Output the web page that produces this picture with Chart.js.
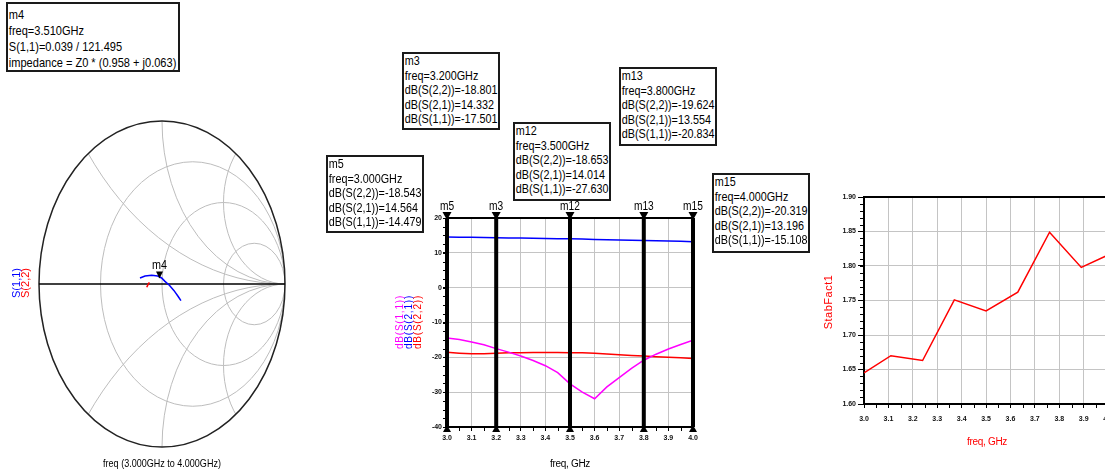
<!DOCTYPE html>
<html>
<head>
<meta charset="utf-8">
<script src="https://cdn.jsdelivr.net/npm/chart.js@4.4.1/dist/chart.umd.min.js"></script>
<style>
  body { margin:0; width:1105px; height:472px; overflow:hidden; background:#fff; position:relative;
         font-family:"Liberation Sans", Arial, sans-serif; color:#000; }
  canvas { position:absolute; }
  .box { position:absolute; box-sizing:border-box; border:2px solid #1a1a1a; background:#fff; overflow:hidden; }
  .box div { transform:scaleX(0.83); transform-origin:0 0; white-space:pre; font-size:13px; line-height:14.5px; padding-left:1px; }
  .lbl { position:absolute; white-space:pre; }
</style>
</head>
<body>
<canvas id="smith" width="300" height="472" style="left:0;top:0"></canvas>
<canvas id="db" width="330" height="277" style="left:380px;top:195px"></canvas>
<canvas id="stab" width="300" height="292" style="left:820px;top:180px"></canvas>

<div class="lbl" style="left:162px;top:463px;font-size:11px;transform:translate(-50%,-50%) scaleX(0.82)">freq (3.000GHz to 4.000GHz)</div>
<div class="lbl" style="left:16px;top:283px;font-size:11px;color:#0000ff;transform:translate(-50%,-50%) rotate(-90deg)">S(1,1)</div>
<div class="lbl" style="left:25px;top:283px;font-size:11px;color:#ff0000;transform:translate(-50%,-50%) rotate(-90deg)">S(2,2)</div>

<div class="lbl" style="left:570px;top:463px;font-size:10px;letter-spacing:-0.3px;transform:translate(-50%,-50%)">freq, GHz</div>
<div class="lbl" style="left:399px;top:322px;font-size:10px;letter-spacing:0.8px;color:#ff00ff;transform:translate(-50%,-50%) rotate(-90deg)">dB(S(1,1))</div>
<div class="lbl" style="left:408px;top:322px;font-size:10px;letter-spacing:0.8px;color:#0000ff;transform:translate(-50%,-50%) rotate(-90deg)">dB(S(2,1))</div>
<div class="lbl" style="left:417px;top:322px;font-size:10px;letter-spacing:0.8px;color:#ff0000;transform:translate(-50%,-50%) rotate(-90deg)">dB(S(2,2))</div>

<div class="lbl" style="left:987px;top:441px;font-size:10px;letter-spacing:-0.3px;color:#ff0000;transform:translate(-50%,-50%)">freq, GHz</div>
<div class="lbl" style="left:828px;top:302px;font-size:11px;letter-spacing:0.5px;color:#ff0000;transform:translate(-50%,-50%) rotate(-90deg)">StabFact1</div>

<script>
// Smith chart traces (real / imaginary part of reflection), 3.0 -> 4.0 GHz
const s11Re = [-0.179, -0.138, -0.084, -0.035, -0.003, 0.024, 0.060, 0.098, 0.133, 0.154];
const s11Im = [0.037, 0.049, 0.053, 0.049, 0.037, 0.016, -0.008, -0.041, -0.078, -0.102];
const s22Re = [-0.124, -0.114, -0.103];
const s22Im = [-0.020, -0.004, 0.010];
const resistanceCircles = [1 / 3, 1, 3];
const reactanceArcs = [0.5, 1, 2];
// marker m4 on S(1,1)
const m4Freq = 3.51;
const m4Polar = [0.039, 121.495];   // magnitude, angle (deg)
const m4Z = [0.958, 0.063];         // normalised impedance re, im

// dB plot
const freqGHz = [3.00, 3.05, 3.10, 3.15, 3.20, 3.25, 3.30, 3.35, 3.40, 3.45, 3.50,
                 3.55, 3.60, 3.65, 3.70, 3.75, 3.80, 3.85, 3.90, 3.95, 4.00];
const s11dB = [-14.479, -14.9, -15.6, -16.4, -17.501, -18.5, -19.6, -20.9, -22.4, -24.4, -27.630,
               -30.0, -31.9, -28.5, -25.8, -23.2, -20.834, -19.1, -17.6, -16.3, -15.108];
const s21dB = [14.564, 14.50, 14.44, 14.39, 14.332, 14.28, 14.23, 14.18, 14.12, 14.07, 14.014,
               13.94, 13.86, 13.78, 13.71, 13.63, 13.554, 13.47, 13.38, 13.29, 13.196];
const s22dB = [-18.543, -18.8, -19.0, -18.95, -18.801, -18.7, -18.65, -18.6, -18.6, -18.62, -18.653,
               -18.72, -18.85, -19.05, -19.25, -19.45, -19.624, -19.8, -19.98, -20.15, -20.319];
const markerNames = ['m5', 'm3', 'm12', 'm13', 'm15'];
const markerFreqs = [3.0, 3.2, 3.5, 3.8, 4.0];

// stability factor
const stabFreq = [3.0, 3.11, 3.24, 3.37, 3.5, 3.63, 3.76, 3.89, 4.0];
const stabFact = [1.645, 1.670, 1.663, 1.751, 1.735, 1.762, 1.849, 1.798, 1.816];

Chart.defaults.font.family = '"Liberation Sans", Arial, sans-serif';

// marker read-out boxes
const boxPos = {
  m4: [6, 2, 174, 70], m3: [402, 52, 98, 78], m13: [619, 67, 98, 79],
  m12: [513, 122, 98, 79], m5: [326, 155, 98, 78], m15: [712, 173, 98, 80]
};
function addBox(name, lines, bigger) {
  const p = boxPos[name];
  const d = document.createElement('div');
  d.className = 'box';
  d.style.cssText = `left:${p[0]}px;top:${p[1]}px;width:${p[2]}px;height:${p[3]}px;`;
  if (bigger) d.style.paddingTop = '3px';
  lines.forEach(t => {
    const l = document.createElement('div');
    l.textContent = t;
    if (bigger) { l.style.fontSize = '13.3px'; l.style.lineHeight = '16px'; }
    d.appendChild(l);
  });
  document.body.appendChild(d);
}
addBox('m4', ['m4', `freq=${m4Freq.toFixed(3)}GHz`, `S(1,1)=${m4Polar[0].toFixed(3)} / ${m4Polar[1].toFixed(3)}`,
  `impedance = Z0 * (${m4Z[0].toFixed(3)} + j${m4Z[1].toFixed(3)})`], true);
['m3', 'm13', 'm12', 'm5', 'm15'].forEach(n => {
  const f = markerFreqs[markerNames.indexOf(n)];
  const i = freqGHz.findIndex(v => Math.abs(v - f) < 1e-9);
  addBox(n, [n, `freq=${f.toFixed(3)}GHz`, `dB(S(2,2))=${s22dB[i].toFixed(3)}`,
    `dB(S(2,1))=${s21dB[i].toFixed(3)}`, `dB(S(1,1))=${s11dB[i].toFixed(3)}`]);
});

// Smith chart grid + marker
const smithGrid = {
  id: 'smithGrid',
  beforeDatasetsDraw(chart) {
    const { ctx, scales: { x, y } } = chart;
    const cx = x.getPixelForValue(0), cy = y.getPixelForValue(0);
    const sx = x.getPixelForValue(1) - cx, sy = cy - y.getPixelForValue(1);
    ctx.save();
    ctx.beginPath();
    ctx.ellipse(cx, cy, sx, sy, 0, 0, Math.PI * 2);
    ctx.clip();
    ctx.strokeStyle = '#bdbdbd';
    ctx.lineWidth = 1;
    resistanceCircles.forEach(r => {
      const c = r / (r + 1), rad = 1 / (r + 1);
      ctx.beginPath();
      ctx.ellipse(cx + c * sx, cy, rad * sx, rad * sy, 0, 0, Math.PI * 2);
      ctx.stroke();
    });
    reactanceArcs.forEach(xv => [xv, -xv].forEach(v => {
      const rad = 1 / Math.abs(v);
      ctx.beginPath();
      ctx.ellipse(cx + sx, cy - sy / v, rad * sx, rad * sy, 0, 0, Math.PI * 2);
      ctx.stroke();
    }));
    ctx.restore();
    ctx.save();
    ctx.strokeStyle = '#222';
    ctx.lineWidth = 1.5;
    ctx.beginPath();
    ctx.ellipse(cx, cy, sx, sy, 0, 0, Math.PI * 2);
    ctx.stroke();
    ctx.strokeStyle = '#000';
    ctx.beginPath();
    ctx.moveTo(cx - sx, cy);
    ctx.lineTo(cx + sx, cy);
    ctx.stroke();
    ctx.restore();
  },
  afterDatasetsDraw(chart) {
    const { ctx, scales: { x, y } } = chart;
    const a = m4Polar[1] * Math.PI / 180;
    const px = x.getPixelForValue(m4Polar[0] * Math.cos(a));
    const py = y.getPixelForValue(m4Polar[0] * Math.sin(a));
    ctx.save();
    ctx.fillStyle = '#000';
    ctx.beginPath();
    ctx.moveTo(px - 3.5, py - 7);
    ctx.lineTo(px + 3.5, py - 7);
    ctx.lineTo(px, py);
    ctx.closePath();
    ctx.fill();
    ctx.translate(px, py - 10);
    ctx.scale(0.9, 1);
    ctx.font = '12px "Liberation Sans"';
    ctx.textAlign = 'center';
    ctx.fillText('m4', 0, 0);
    ctx.restore();
  }
};

// plot frame + minor ticks
const axisFrame = {
  id: 'axisFrame',
  beforeDatasetsDraw(chart, args, opts) {
    const { ctx, chartArea: a, scales: { x, y } } = chart;
    ctx.save();
    ctx.strokeStyle = '#000';
    ctx.lineWidth = 1;
    ctx.beginPath();
    for (let v = y.min; v <= y.max + 1e-9; v += opts.yMinor) {
      const py = Math.round(y.getPixelForValue(v)) + 0.5;
      ctx.moveTo(a.left - opts.yMinorLen, py);
      ctx.lineTo(a.left, py);
    }
    for (let v = x.min + opts.xMinor; v < x.max; v += 2 * opts.xMinor) {
      const px = Math.round(x.getPixelForValue(v)) + 0.5;
      ctx.moveTo(px, a.bottom);
      ctx.lineTo(px, a.bottom + 4);
    }
    ctx.stroke();
    ctx.lineWidth = 2;
    ctx.strokeRect(a.left, a.top, a.right - a.left, a.bottom - a.top);
    ctx.restore();
  }
};

const freqMarkers = {
  id: 'freqMarkers',
  afterDatasetsDraw(chart) {
    const { ctx, chartArea: a, scales: { x } } = chart;
    ctx.save();
    ctx.fillStyle = '#000';
    ctx.strokeStyle = '#000';
    markerFreqs.forEach((f, i) => {
      const px = x.getPixelForValue(f);
      ctx.lineWidth = 4;
      ctx.beginPath();
      ctx.moveTo(px, a.top);
      ctx.lineTo(px, a.bottom);
      ctx.stroke();
      ctx.beginPath();
      ctx.moveTo(px - 4.5, a.top - 6);
      ctx.lineTo(px + 4.5, a.top - 6);
      ctx.lineTo(px, a.top + 2);
      ctx.closePath();
      ctx.fill();
      ctx.beginPath();
      ctx.moveTo(px - 4, a.bottom + 5);
      ctx.lineTo(px + 4, a.bottom + 5);
      ctx.lineTo(px, a.bottom - 2);
      ctx.closePath();
      ctx.fill();
      ctx.save();
      ctx.translate(px, a.top - 8);
      ctx.scale(0.85, 1);
      ctx.font = '12px "Liberation Sans"';
      ctx.textAlign = 'center';
      ctx.fillText(markerNames[i], 0, 0);
      ctx.restore();
    });
    ctx.restore();
  }
};

const tickFont = { size: 7, weight: 'bold' };

new Chart(document.getElementById('smith'), {
  type: 'scatter',
  data: {
    datasets: [
      { label: 'S(1,1)', data: s11Re.map((r, i) => ({ x: r, y: s11Im[i] })), showLine: true,
        borderColor: '#0000ff', borderWidth: 1.5, pointRadius: 0 },
      { label: 'S(2,2)', data: s22Re.map((r, i) => ({ x: r, y: s22Im[i] })), showLine: true,
        borderColor: '#ff0000', borderWidth: 1.5, pointRadius: 0 }
    ]
  },
  options: {
    responsive: false,
    animation: false,
    layout: { padding: { left: 39, right: 15, top: 121, bottom: 25 } },
    plugins: { legend: { display: false }, tooltip: { enabled: false } },
    scales: {
      x: { type: 'linear', min: -1, max: 1, display: false },
      y: { type: 'linear', min: -1, max: 1, display: false }
    }
  },
  plugins: [smithGrid]
});

new Chart(document.getElementById('db'), {
  type: 'line',
  data: {
    datasets: [
      { label: 'dB(S(1,1))', data: freqGHz.map((f, i) => ({ x: f, y: s11dB[i] })), borderColor: '#ff00ff' },
      { label: 'dB(S(2,1))', data: freqGHz.map((f, i) => ({ x: f, y: s21dB[i] })), borderColor: '#0000ff' },
      { label: 'dB(S(2,2))', data: freqGHz.map((f, i) => ({ x: f, y: s22dB[i] })), borderColor: '#ff0000' }
    ]
  },
  options: {
    responsive: false,
    animation: false,
    layout: { padding: { left: 0, right: 17, top: 23, bottom: 0 } },
    elements: { point: { radius: 0 }, line: { borderWidth: 1.5, tension: 0 } },
    plugins: {
      legend: { display: false }, tooltip: { enabled: false },
      axisFrame: { yMinor: 2.5, yMinorLen: 4, xMinor: 0.05 }
    },
    scales: {
      x: {
        type: 'linear', min: 3, max: 4,
        afterFit(s) { s.height = 45; },
        ticks: { stepSize: 0.1, autoSkip: false, maxRotation: 0, padding: 3, color: '#111', font: tickFont,
                 callback: v => v.toFixed(1) },
        grid: { color: '#c4c4c4', tickColor: '#000', tickLength: 4 },
        border: { display: false }
      },
      y: {
        min: -40, max: 20,
        afterFit(s) { s.width = 67; },
        ticks: { stepSize: 10, padding: 1, color: '#111', font: tickFont },
        grid: { color: '#c4c4c4', tickColor: '#000', tickLength: 4 },
        border: { display: false }
      }
    }
  },
  plugins: [axisFrame, freqMarkers]
});

new Chart(document.getElementById('stab'), {
  type: 'line',
  data: {
    datasets: [
      { label: 'StabFact1', data: stabFreq.map((f, i) => ({ x: f, y: stabFact[i] })),
        borderColor: '#ff0000', borderWidth: 1.5, pointRadius: 0, tension: 0 }
    ]
  },
  options: {
    responsive: false,
    animation: false,
    layout: { padding: { left: 0, right: 11, top: 17, bottom: 0 } },
    plugins: {
      legend: { display: false }, tooltip: { enabled: false },
      axisFrame: { yMinor: 0.01, yMinorLen: 4, xMinor: 0.05 }
    },
    scales: {
      x: {
        type: 'linear', min: 3, max: 4,
        afterFit(s) { s.height = 68; },
        ticks: { stepSize: 0.1, autoSkip: false, maxRotation: 0, padding: 7, color: '#111', font: tickFont,
                 callback: v => v.toFixed(1) },
        grid: { color: '#c4c4c4', tickColor: '#000', tickLength: 4 },
        border: { display: false }
      },
      y: {
        min: 1.6, max: 1.9,
        afterFit(s) { s.width = 44; },
        ticks: { stepSize: 0.05, padding: 2, color: '#111', font: tickFont, callback: v => v.toFixed(2) },
        grid: { color: '#c4c4c4', tickColor: '#000', tickLength: 6 },
        border: { display: false }
      }
    }
  },
  plugins: [axisFrame]
});
</script>
</body>
</html>
